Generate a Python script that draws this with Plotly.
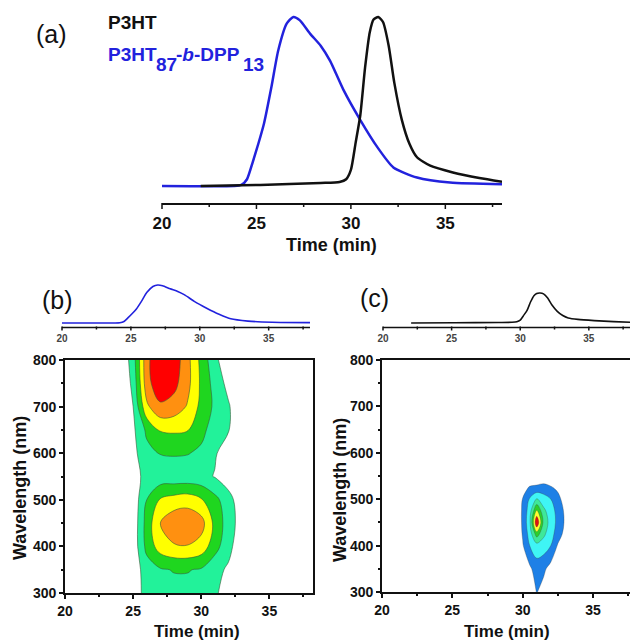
import plotly.graph_objects as go

# ---------------- data ----------------
# GPC traces (normalised detector signal) vs elution time (min)
copolymer_time = [20.0, 23.8, 24.2, 24.5, 24.8, 25.1, 25.4, 25.8, 26.15, 26.6, 26.95, 27.3,
                  27.85, 28.4, 28.9, 29.6, 30.5, 31.4, 32.25, 33.5, 35.25, 38.0]
copolymer_signal = [0.0, 0.0, 0.006, 0.04, 0.14, 0.25, 0.37, 0.59, 0.8, 0.96, 1.0, 0.98,
                    0.9, 0.83, 0.74, 0.57, 0.39, 0.23, 0.11, 0.05, 0.02, 0.01]

homopolymer_time = [22.05, 25.2, 28.4, 29.4, 29.75, 30.0, 30.25, 30.5, 30.75, 31.0, 31.2,
                    31.45, 31.7, 32.0, 32.3, 32.7, 33.1, 33.5, 34.2, 35.4, 36.8, 38.0]
homopolymer_signal = [0.0, 0.006, 0.018, 0.024, 0.04, 0.095, 0.255, 0.42, 0.70, 0.91, 0.985,
                      1.0, 0.97, 0.83, 0.61, 0.39, 0.25, 0.17, 0.12, 0.08, 0.047, 0.025]

# time-axis tick values of the chromatogram panels
time_major_ticks = [20, 25, 30, 35]
time_minor_ticks = [22.5, 27.5, 32.5, 37.5]

# 2D elution maps: absorbance level vs time (columns) and wavelength (rows)
map_b_time = [24, 25, 26, 27, 28, 29, 30, 31, 32, 33, 34]
map_b_wavelength = [300, 350, 400, 450, 500, 550, 600, 650, 700, 750, 800]
map_b_level = [
    [0, 0.4, 1.4, 1.6, 1.7, 1.7, 1.6, 1.2, 0.4, 0, 0],
    [0, 0.4, 1.5, 1.9, 2.05, 2.05, 1.9, 1.3, 0.85, 0, 0],
    [0, 0.35, 2.3, 3.5, 3.9, 3.95, 3.6, 2.4, 1.3, 0.3, 0],
    [0, 0.3, 2.4, 4.0, 4.7, 4.8, 4.4, 2.7, 1.5, 0.5, 0],
    [0, 0.35, 2.0, 3.1, 3.4, 3.55, 3.1, 2.3, 1.4, 0.3, 0],
    [0, 0.5, 1.4, 1.4, 1.35, 1.35, 1.3, 0.95, 0.4, 0, 0],
    [0, 0.7, 1.7, 2.05, 2.1, 2.05, 1.8, 1.1, 0.5, 0, 0],
    [0, 0.8, 2.2, 3.1, 3.15, 3.05, 2.3, 1.5, 1.05, 0.2, 0],
    [0, 1.0, 3.8, 4.8, 4.6, 3.9, 2.7, 1.8, 1.1, 0.2, 0],
    [0, 1.25, 4.6, 5.8, 5.3, 4.3, 2.8, 1.6, 0.7, 0, 0],
    [0, 1.5, 4.7, 6.0, 5.6, 4.3, 2.7, 1.25, 0.3, 0, 0],
]

map_c_time = [29.5, 30, 30.5, 31, 31.5, 32, 32.5, 33, 33.5]
map_c_wavelength = [300, 350, 400, 425, 450, 475, 500, 525, 550]
map_c_level = [
    [0, 0, 0.3, 1.05, 0.6, 0.2, 0, 0, 0],
    [0, 0.4, 0.8, 1.5, 1.2, 0.6, 0.2, 0, 0],
    [0, 0.9, 2.0, 2.6, 2.5, 2.0, 0.9, 0.4, 0],
    [0, 1.1, 2.4, 4.5, 3.2, 2.4, 1.5, 0.7, 0],
    [0, 1.2, 2.7, 7.0, 3.6, 2.6, 1.7, 0.9, 0],
    [0, 1.2, 2.5, 5.1, 3.2, 2.5, 1.6, 0.85, 0],
    [0, 1.05, 2.1, 3.1, 2.5, 2.0, 1.3, 0.6, 0],
    [0, 0.6, 1.1, 1.2, 1.3, 1.1, 0.8, 0.3, 0],
    [0, 0, 0.2, 0.3, 0.4, 0.3, 0, 0, 0],
]

# ---------------- styling ----------------
W, H = 630, 641
FONT = "Liberation Sans, Arial, sans-serif"
BLUE = "#2222dd"
INK = "#111111"


def px(x):
    return x / W


def py(y):
    return 1 - y / H


fill_b = ["#ffffff", "#22f29a", "#1fd61f", "#ffff00", "#ff9010", "#ff0000"]
fill_c = ["#ffffff", "#1e80e6", "#3ff5f5", "#3ee89a", "#2ccf2c", "#ffff30", "#e01010"]


def stepped(colors):
    n = len(colors) - 1
    return [[i / n, c] for i, c in enumerate(colors)]


fig = go.Figure()

# (a) overlaid chromatograms
fig.add_trace(go.Scatter(x=copolymer_time, y=copolymer_signal, mode="lines",
                         line=dict(color=BLUE, width=2.5, shape="spline", smoothing=0.6),
                         xaxis="x", yaxis="y", showlegend=False))
fig.add_trace(go.Scatter(x=homopolymer_time, y=homopolymer_signal, mode="lines",
                         line=dict(color=INK, width=2.5, shape="spline", smoothing=0.6),
                         xaxis="x", yaxis="y", showlegend=False))

# (b) copolymer chromatogram + map
fig.add_trace(go.Scatter(x=copolymer_time, y=copolymer_signal, mode="lines",
                         line=dict(color=BLUE, width=1.6, shape="spline", smoothing=0.6),
                         xaxis="x2", yaxis="y2", showlegend=False))
fig.add_trace(go.Contour(x=map_b_time, y=map_b_wavelength, z=map_b_level,
                         contours=dict(start=1, end=5, size=1, coloring="fill"),
                         colorscale=stepped(fill_b), showscale=False,
                         line=dict(color="#3a5a3a", width=0.6, smoothing=1.0),
                         xaxis="x3", yaxis="y3", hoverinfo="skip"))

# (c) homopolymer chromatogram + map
fig.add_trace(go.Scatter(x=homopolymer_time, y=homopolymer_signal, mode="lines",
                         line=dict(color=INK, width=1.6, shape="spline", smoothing=0.6),
                         xaxis="x4", yaxis="y4", showlegend=False))
fig.add_trace(go.Contour(x=map_c_time, y=map_c_wavelength, z=map_c_level,
                         contours=dict(start=1, end=6, size=1, coloring="fill"),
                         colorscale=stepped(fill_c), showscale=False,
                         line=dict(color="#3a3a3a", width=0.3, smoothing=1.0),
                         xaxis="x5", yaxis="y5", hoverinfo="skip"))


def map_time_axis(domain, rng, anchor):
    return dict(domain=domain, range=rng, anchor=anchor, showline=True, linecolor=INK,
                linewidth=2, mirror=True, ticks="outside", ticklen=4, tickwidth=1.5,
                tickcolor=INK, tick0=20, dtick=5,
                minor=dict(dtick=2.5, ticks="outside", ticklen=2, tickwidth=1.5, tickcolor=INK),
                showgrid=False, zeroline=False, fixedrange=True,
                tickfont=dict(family=FONT, size=14, color=INK, weight="bold"))


def trace_time_axis(domain, anchor, size, standoff, color=INK):
    # baseline and tick marks of these axes are drawn as paper shapes below
    return dict(domain=domain, range=[20, 38], anchor=anchor, showline=False, ticks="",
                tick0=20, dtick=5, ticklabelstandoff=standoff,
                showgrid=False, zeroline=False, fixedrange=True,
                tickfont=dict(family=FONT, size=size, color=color, weight="bold"))


def bare_axis(domain, rng, anchor):
    # signal axis of the chromatograms: used for scaling only
    return dict(domain=domain, range=rng, anchor=anchor, showline=False, showgrid=False,
                zeroline=False, ticks="", showticklabels=False, fixedrange=True)


def wl_axis(domain, anchor, mirror):
    return dict(domain=domain, range=[300, 800], anchor=anchor, showline=True, linecolor=INK,
                linewidth=1.8, mirror=mirror, ticks="outside", ticklen=4, tickwidth=1.5,
                tickcolor=INK, tick0=300, dtick=100,
                minor=dict(dtick=50, ticks="outside", ticklen=2, tickwidth=1.5, tickcolor=INK),
                showgrid=False, zeroline=False, fixedrange=True,
                tickfont=dict(family=FONT, size=14, color=INK, weight="bold"))


fig.update_layout(
    width=W, height=H, margin=dict(l=0, r=0, t=0, b=0, autoexpand=False),
    paper_bgcolor="white", plot_bgcolor="white", showlegend=False,
    xaxis=trace_time_axis([px(162), px(502)], "y", 17, 8),
    yaxis=bare_axis([py(203), py(8)], [-0.1006, 1.053], "x"),
    xaxis2=trace_time_axis([px(62), px(310)], "y2", 10, 4, color="#444444"),
    yaxis2=bare_axis([py(327), py(280)], [-4 / 38, 1 + 5 / 38], "x2"),
    xaxis3=map_time_axis([px(65), px(313)], [20, 38.2], "y3"),
    yaxis3=wl_axis([py(593), py(360)], "x3", True),
    xaxis4=trace_time_axis([px(383), 1.0], "y4", 10, 4, color="#444444"),
    yaxis4=bare_axis([py(327), py(280)], [-4 / 30, 1 + 13 / 30], "x4"),
    xaxis5=map_time_axis([px(382), 1.0], [20, 37.63], "y5"),
    yaxis5=wl_axis([py(592), py(360)], "x5", False),
)


def baseline_axis(x_left, x_right, y_line, lw, major_len, minor_len):
    """Axis line with outward ticks under a chromatogram, placed in page pixels."""
    def to_px(t):
        return x_left + (t - 20) / 18 * (x_right - x_left)

    fig.add_shape(type="line", xref="paper", yref="paper", x0=px(x_left), x1=px(x_right),
                  y0=py(y_line), y1=py(y_line), line=dict(color=INK, width=lw), layer="above")
    for ticks, length in ((time_major_ticks, major_len), (time_minor_ticks, minor_len)):
        for t in ticks:
            fig.add_shape(type="line", xref="paper", yref="paper",
                          x0=px(to_px(t)), x1=px(to_px(t)),
                          y0=py(y_line - 1), y1=py(y_line + length),
                          line=dict(color=INK, width=1.5), layer="above")


baseline_axis(162, 502, 204, 2, 5, 3)
baseline_axis(62, 310, 327.5, 1.6, 3, 2)
baseline_axis(383, 630, 327.5, 1.6, 3, 2)


def label(text, x, y, size, color=INK, bold=True, angle=0, xanchor="center"):
    fig.add_annotation(text=text, x=px(x), y=py(y), xref="paper", yref="paper",
                       xanchor=xanchor, yanchor="middle", showarrow=False, textangle=angle,
                       font=dict(family=FONT, size=size, color=color,
                                 weight="bold" if bold else "normal"))


# panel letters
label("(a)", 51, 34, 25, bold=False)
label("(b)", 57, 300, 25, bold=False)
label("(c)", 374, 298, 25, bold=False)

# legend of panel (a)
label("P3HT", 106, 22, 19, xanchor="left")
label("P3HT", 106, 55, 19, color=BLUE, xanchor="left")
label("87", 154, 64, 19, color=BLUE, xanchor="left")
label("-<i>b</i>-DPP", 174, 55, 19, color=BLUE, xanchor="left")
label("13", 241, 64, 19, color=BLUE, xanchor="left")

# axis titles
label("Time (min)", 331, 245, 18)
label("Time (min)", 197, 631, 17)
label("Time (min)", 507, 631, 17)
label("Wavelength (nm)", 20, 488, 18, angle=-90)
label("Wavelength (nm)", 340, 490, 18, angle=-90)

# the page body carries the browser's default margin; remove it so the figure sits at 0,0
fig.write_html("out.html", post_script="document.body.style.margin='0';")
